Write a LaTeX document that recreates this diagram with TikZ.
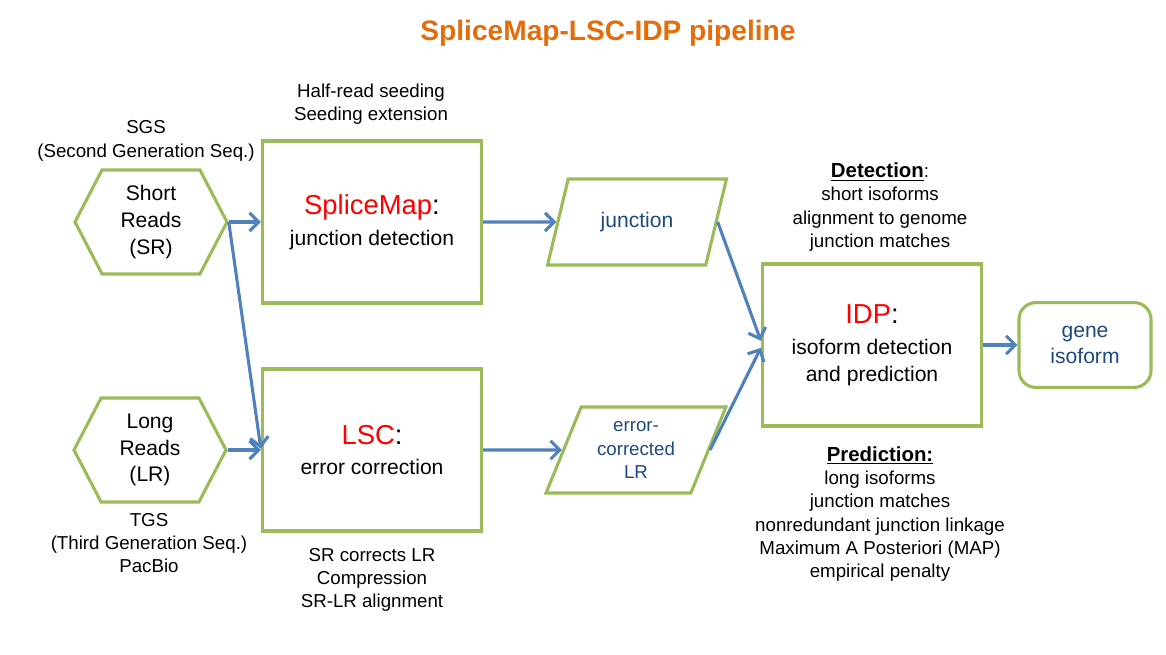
\documentclass[tikz,border=0pt]{standalone}
\usepackage{fontspec}
\setmainfont{Liberation Sans}
\usetikzlibrary{shapes.geometric,shapes.symbols,arrows.meta}

\definecolor{boxgreen}{HTML}{9BBB59}
\definecolor{flowblue}{HTML}{4F81BD}
\definecolor{datablue}{HTML}{1F497D}
\definecolor{titleorange}{HTML}{E46C0A}

\newcommand{\toolname}[1]{{\fontsize{19.5}{20.5}\selectfont\textcolor{red}{#1}:}}

\begin{document}
\begin{tikzpicture}[
    x=0.025cm, y=-0.025cm,
    every node/.style={text=black, align=center},
    small/.style={font=\fontsize{13.3}{16.5}\selectfont},
    reads/.style={shape=signal, signal to=west and east, signal pointer angle=125,
        draw=boxgreen, line width=2.2pt, minimum width=3.8cm, minimum height=2.6cm,
        inner sep=0pt, font=\fontsize{15}{19}\selectfont},
    tool/.style={rectangle, draw=boxgreen, line width=2.2pt, minimum width=5.48cm,
        minimum height=4.05cm, font=\fontsize{15}{19}\selectfont},
    data/.style={trapezium, trapezium left angle=67, trapezium right angle=113,
        trapezium stretches=true, draw=boxgreen, line width=2.2pt,
        minimum width=4.5cm, minimum height=2.15cm, text=datablue},
    result/.style={rectangle, rounded corners=12pt, draw=boxgreen, line width=2.2pt,
        minimum width=3.3cm, minimum height=2.12cm, text=datablue,
        font=\fontsize{15}{18.5}\selectfont},
    flow/.style={-{Straight Barb[length=6.5pt,width=13pt]}, flowblue, line width=2.2pt}
]
    \useasboundingbox (0,0) rectangle (1166,655);

    % --- TITLE ---
    \node[text=titleorange, font=\fontsize{20}{22}\selectfont\bfseries] (title) at (608,33) {SpliceMap-LSC-IDP pipeline};

    % --- INPUT READS ---
    \node[reads] (sr) at (151,222) {Short\\Reads\\(SR)};
    \node[reads] (lr) at (150,450) {Long\\Reads\\(LR)};

    \node[small] (sgs) at (146,141) {SGS\\(Second Generation Seq.)};
    \node[small] (tgs) at (149,543) {TGS\\(Third Generation Seq.)\\PacBio};

    % --- TOOLS ---
    \node[tool] (splicemap) at (372,222) {\toolname{SpliceMap}\\[3pt]junction detection};
    \node[tool] (lsc) at (372,450) {\toolname{LSC}\\[2pt]error correction};
    \node[tool] (idp) at (872,345) {\toolname{IDP}\\[3pt]isoform detection\\and prediction};

    \node[small] (seeding) at (371,104) {Half-read seeding\\Seeding extension};
    \node[small] (correct) at (372,580) {SR corrects LR\\Compression\\SR-LR alignment};

    % --- INTERMEDIATE DATA ---
    \node[data, font=\fontsize{15}{18}\selectfont] (junction) at (637,222) {junction};
    \node[data, font=\fontsize{13.3}{16.5}\selectfont] (eclr) at (636,450) {error-\\corrected\\LR};

    % --- OUTPUT ---
    \node[result] (gene) at (1085,345) {gene\\isoform};

    \node[small] (detect) at (880,207) {{\fontsize{14.5}{17}\selectfont\bfseries\underline{Detection}}:\\short isoforms\\alignment to genome\\junction matches};
    \node[small] (predict) at (880,514) {{\fontsize{14.5}{17}\selectfont\bfseries\underline{Prediction:}}\\long isoforms\\junction matches\\nonredundant junction linkage\\Maximum A Posteriori (MAP)\\empirical penalty};

    % --- ARROWS ---
    \draw[flow] (sr.east) -- (splicemap.west);
    \draw[flow] (sr.east) -- ([yshift=1pt]lsc.west);
    \draw[flow] (lr.east) -- (lsc.west);
    \draw[flow] (splicemap.east) -- (junction.west);
    \draw[flow] (lsc.east) -- (eclr.west);
    \draw[flow] (junction.east) -- ([yshift=3pt]idp.west);
    \draw[flow] (eclr.east) -- ([yshift=-2pt]idp.west);
    \draw[flow] (idp.east) -- (gene.west);

\end{tikzpicture}
\end{document}
